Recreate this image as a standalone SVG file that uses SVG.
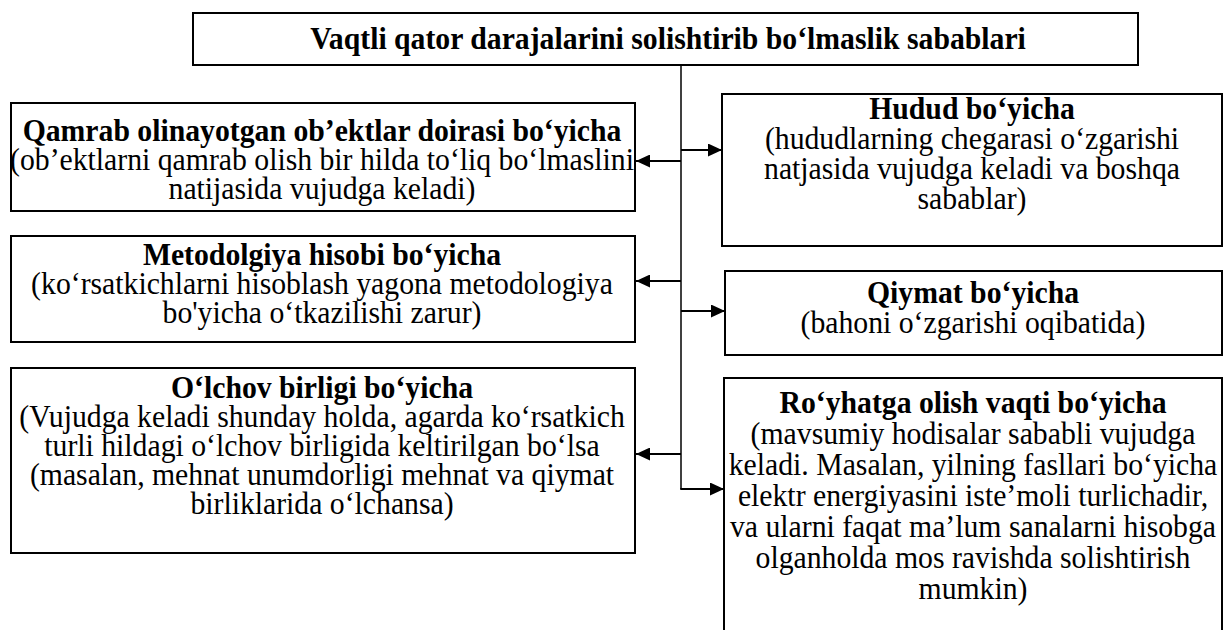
<svg xmlns="http://www.w3.org/2000/svg" width="1224" height="630" viewBox="0 0 1224 630">
<style>
.box{fill:#fff;stroke:#000;stroke-width:2}
text{font-family:"Liberation Serif","Times New Roman",serif;font-size:32.5px;fill:#000;text-anchor:middle}
.h{font-weight:bold}
.ln{stroke:#000;stroke-width:1.5;fill:none}
.ar{stroke:#000;stroke-width:2.2;fill:none}
</style>
<defs>
<marker id="arr" viewBox="0 0 14 13" refX="14" refY="6.5" markerWidth="14" markerHeight="13" markerUnits="userSpaceOnUse" orient="auto">
<path d="M0,0 L14,6.5 L0,13 Z" fill="#000"/>
</marker>
</defs>
<rect width="1224" height="630" fill="#fff"/>
<g id="connectors">
<path class="ln" d="M681,65 V489"/>
<path class="ar" d="M681,150 H722" marker-end="url(#arr)"/>
<path class="ar" d="M681,161 H636" marker-end="url(#arr)"/>
<path class="ar" d="M681,281 H636" marker-end="url(#arr)"/>
<path class="ar" d="M681,311 H725" marker-end="url(#arr)"/>
<path class="ar" d="M681,454 H636" marker-end="url(#arr)"/>
<path class="ar" d="M680.25,489 H724" marker-end="url(#arr)"/>
</g>
<g id="title">
<rect class="box" x="193" y="13" width="945" height="52"/>
<g transform="translate(668,0) scale(0.915,1)">
<text class="h" x="0" y="49">Vaqtli qator darajalarini solishtirib bo‘lmaslik sabablari</text>
</g>
</g>
<g id="qamrab">
<rect class="box" x="11" y="103" width="624" height="108"/>
<g transform="translate(322,0) scale(0.915,1)">
<text class="h" x="0" y="141">Qamrab olinayotgan ob’ektlar doirasi bo‘yicha</text>
<text x="0" y="170">(ob’ektlarni qamrab olish bir hilda to‘liq bo‘lmaslini</text>
<text x="0" y="199">natijasida vujudga keladi)</text>
</g>
</g>
<g id="metodologiya">
<rect class="box" x="11" y="236" width="624" height="106"/>
<g transform="translate(322,0) scale(0.915,1)">
<text class="h" x="0" y="265">Metodolgiya hisobi bo‘yicha</text>
<text x="0" y="294">(ko‘rsatkichlarni hisoblash yagona metodologiya</text>
<text x="0" y="323">bo'yicha o‘tkazilishi zarur)</text>
</g>
</g>
<g id="olchov">
<rect class="box" x="11" y="368" width="624" height="185"/>
<g transform="translate(322,0) scale(0.915,1)">
<text class="h" x="0" y="398">O‘lchov birligi bo‘yicha</text>
<text x="0" y="427">(Vujudga keladi shunday holda, agarda ko‘rsatkich</text>
<text x="0" y="456">turli hildagi o‘lchov birligida keltirilgan bo‘lsa</text>
<text x="0" y="485">(masalan, mehnat unumdorligi mehnat va qiymat</text>
<text x="0" y="514">birliklarida o‘lchansa)</text>
</g>
</g>
<g id="hudud">
<rect class="box" x="722" y="94" width="500" height="152"/>
<g transform="translate(972,0) scale(0.915,1)">
<text class="h" x="0" y="119">Hudud bo‘yicha</text>
<text x="0" y="149">(hududlarning chegarasi o‘zgarishi</text>
<text x="0" y="179">natjasida vujudga keladi va boshqa</text>
<text x="0" y="209">sabablar)</text>
</g>
</g>
<g id="qiymat">
<rect class="box" x="725" y="271" width="497" height="84"/>
<g transform="translate(973,0) scale(0.915,1)">
<text class="h" x="0" y="303">Qiymat bo‘yicha</text>
<text x="0" y="333">(bahoni o‘zgarishi oqibatida)</text>
</g>
</g>
<g id="royhat">
<rect class="box" x="724" y="378" width="498" height="270"/>
<g transform="translate(973,0) scale(0.915,1)">
<text class="h" x="0" y="413">Ro‘yhatga olish vaqti bo‘yicha</text>
<text x="0" y="444">(mavsumiy hodisalar sababli vujudga</text>
<text x="0" y="475">keladi. Masalan, yilning fasllari bo‘yicha</text>
<text x="0" y="506">elektr energiyasini iste’moli turlichadir,</text>
<text x="0" y="537">va ularni faqat ma’lum sanalarni hisobga</text>
<text x="0" y="568">olganholda mos ravishda solishtirish</text>
<text x="0" y="599">mumkin)</text>
</g>
</g>
</svg>
